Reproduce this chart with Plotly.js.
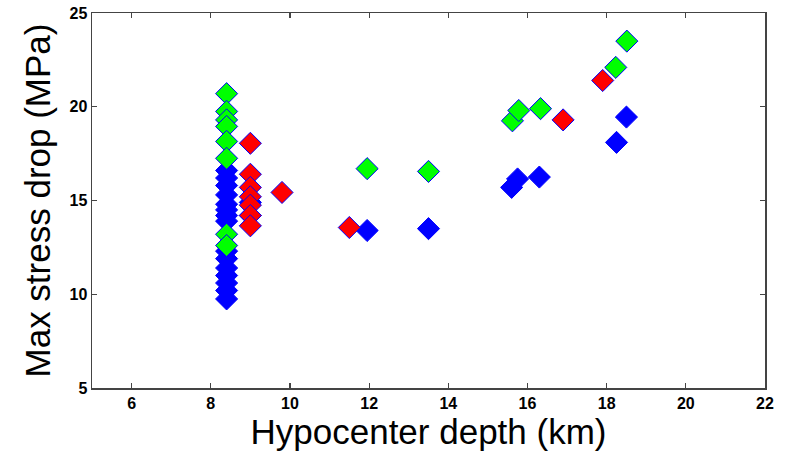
<!DOCTYPE html>
<html>
<head>
<meta charset="utf-8">
<script src="https://cdn.plot.ly/plotly-3.0.1.min.js"></script>
<style>html,body{margin:0;padding:0;background:#fff;}#chart{width:792px;height:457px;}</style>
</head>
<body>
<div id="chart"></div>
<script>
// Blue series
const blueX = [8.4, 8.4, 8.4, 8.4, 8.4, 8.4, 8.4, 8.4, 8.4, 8.4, 8.4, 8.4, 8.4, 8.4, 8.4, 9.0, 9.0,
               11.95, 13.5, 15.6, 15.75, 16.3, 18.25, 18.5];
const blueY = [16.6, 16.2, 15.8, 15.3, 14.8, 14.5, 14.2, 13.9, 12.3, 11.9, 11.4, 11.0, 10.6, 10.2, 9.75, 14.9, 14.2,
               13.4, 13.5, 15.7, 16.15, 16.25, 18.1, 19.45];
// Green series
const greenX = [8.4, 8.4, 8.4, 8.4, 8.4, 8.4, 8.4, 8.4, 11.95, 13.5, 15.62, 15.78, 16.33, 18.23, 18.51];
const greenY = [20.7, 19.75, 19.3, 18.95, 18.15, 17.25, 13.2, 12.6, 16.7, 16.55, 19.25, 19.8, 19.9, 22.1, 23.5];
// Red series
const redX = [9.0, 9.0, 9.0, 9.0, 9.0, 9.0, 9.0, 9.8, 11.5, 16.9, 17.9];
const redY = [18.05, 16.4, 15.7, 15.2, 14.75, 14.2, 13.65, 15.43, 13.56, 19.3, 21.4];

const xTicks = [6, 8, 10, 12, 14, 16, 18, 20, 22];
const yTicks = [5, 10, 15, 20, 25];

function mk(x, y, fill) {
  return {
    type: 'scatter', mode: 'markers', x: x, y: y, showlegend: false, hoverinfo: 'skip',
    marker: { symbol: 'diamond', size: 17, color: fill, line: { color: '#0000ff', width: 1 } }
  };
}

const font = 'Liberation Sans, Arial, Helvetica, sans-serif';
const axisCommon = {
  showgrid: false, zeroline: false, showline: true, mirror: 'ticks',
  linecolor: '#444444', linewidth: 1.5, ticks: 'inside', ticklen: 5, tickwidth: 1.2, tickcolor: '#444444',
  tickfont: { family: font, size: 16, color: '#000', weight: 'bold' }
};

const layout = {
  width: 792, height: 457,
  margin: { l: 92, r: 27, t: 13, b: 69 },
  paper_bgcolor: '#fff', plot_bgcolor: '#fff',
  xaxis: Object.assign({}, axisCommon, {
    range: [5, 22], tickvals: xTicks, ticktext: xTicks.map(String),
    title: { text: 'Hypocenter depth (km)', font: { family: font, size: 35, color: '#000' }, standoff: 2 }
  }),
  yaxis: Object.assign({}, axisCommon, {
    range: [5, 25], tickvals: yTicks, ticktext: yTicks.map(String),
    title: { text: 'Max stress drop (MPa)', font: { family: font, size: 35, color: '#000' }, standoff: 8 }
  })
};

Plotly.newPlot('chart', [mk(blueX, blueY, '#0000ff'), mk(greenX, greenY, '#00ff00'), mk(redX, redY, '#ff0000')], layout, { staticPlot: true });
</script>
</body>
</html>
